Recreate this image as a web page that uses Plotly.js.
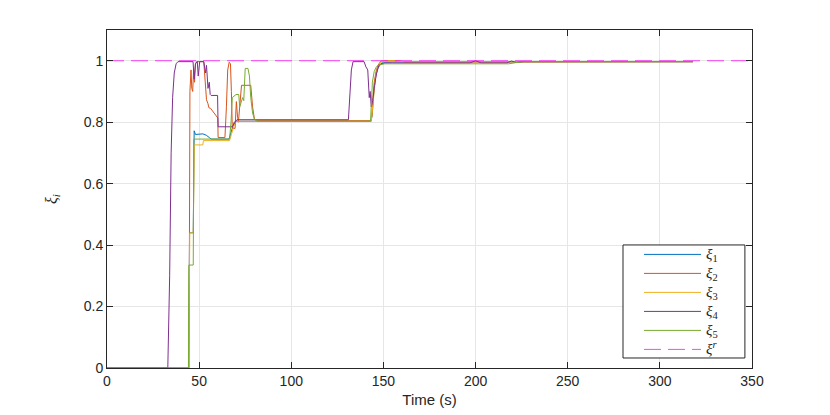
<!DOCTYPE html>
<html>
<head>
<meta charset="utf-8">
<script src="https://cdn.plot.ly/plotly-3.0.1.min.js"></script>
<style>html,body{margin:0;padding:0;background:#fff;}#chart{width:830px;height:415px;}</style>
</head>
<body>
<div id="chart"></div>
<script>
// ξ1 (blue)
const t1 = [0, 44.3, 44.8, 46.8, 47.3, 48, 52, 54, 55.5, 56.5, 66.2, 67, 68, 69, 70.5, 143.3, 144, 144.8, 145.8, 147, 148.5, 150, 155, 318];
const xi1 = [0, 0, 0.44, 0.44, 0.772, 0.76, 0.762, 0.757, 0.75, 0.745, 0.745, 0.76, 0.785, 0.80, 0.803, 0.803, 0.83, 0.90, 0.95, 0.975, 0.99, 0.995, 0.996, 0.997];
// ξ2 (orange)
const t2 = [0, 44.5, 45.0, 45.6, 46.0, 46.5, 47.0, 47.5, 48.0, 48.6, 52.5, 53.2, 54.0, 54.8, 55.3, 56.2, 60.1, 60.3, 64.0, 64.8, 65.5, 66.3, 67.0, 67.5, 68.0, 69.5, 70.2, 70.8, 71.3, 72.0, 73.0, 78.0, 79.0, 80.0, 81.0, 143.3, 143.8, 144.3, 145.0, 146.0, 147.0, 148.5, 150.5, 158, 162, 200, 318];
const xi2 = [0, 0, 0.90, 0.97, 0.91, 0.90, 0.97, 0.93, 0.99, 0.997, 0.997, 0.95, 0.873, 0.86, 0.847, 0.845, 0.814, 0.75, 0.75, 0.85, 0.97, 0.995, 0.99, 0.90, 0.78, 0.78, 0.867, 0.82, 0.80, 0.85, 0.92, 0.92, 0.85, 0.81, 0.805, 0.805, 0.82, 0.88, 0.93, 0.965, 0.985, 0.998, 1.0, 1.0, 0.996, 0.996, 0.997];
// ξ3 (yellow)
const t3 = [0, 44.4, 44.9, 46.8, 47.4, 52.0, 52.3, 66.5, 67.5, 68.5, 69.5, 70.5, 143.4, 144.0, 144.8, 145.8, 147.0, 148.5, 150.5, 157, 162, 318];
const xi3 = [0, 0, 0.44, 0.44, 0.726, 0.726, 0.74, 0.74, 0.76, 0.785, 0.80, 0.803, 0.803, 0.84, 0.90, 0.95, 0.978, 0.995, 0.999, 0.999, 0.996, 0.997];
// ξ4 (purple)
const t4 = [0, 33.0, 34.0, 34.8, 35.6, 36.5, 37.5, 38.5, 46.7, 47.3, 48.0, 49.0, 49.5, 50.3, 52.5, 53.5, 54.0, 54.8, 55.5, 56.0, 56.5, 60.0, 60.3, 68.0, 69.5, 70.5, 131.0, 131.8, 132.6, 133.5, 139.5, 140.5, 141.5, 142.3, 142.8, 143.4, 144.2, 145.2, 146.3, 147.5, 149.0, 151, 197, 200, 203, 217, 219.5, 222, 226, 318];
const xi4 = [0, 0, 0.30, 0.70, 0.88, 0.96, 0.99, 0.997, 0.997, 0.94, 0.99, 0.997, 0.95, 0.997, 0.997, 0.96, 0.985, 0.91, 0.93, 0.89, 0.887, 0.887, 0.785, 0.785, 0.80, 0.808, 0.808, 0.90, 0.97, 0.997, 0.997, 0.98, 0.97, 0.88, 0.90, 0.85, 0.87, 0.92, 0.96, 0.985, 0.99, 0.993, 0.993, 1.0, 0.993, 0.993, 0.999, 0.994, 0.997, 0.997];
// ξ5 (green)
const t5 = [0, 44.2, 44.4, 46.8, 47.1, 66.5, 67.3, 68.0, 70.0, 71.5, 72.0, 72.5, 73.0, 73.6, 74.2, 75.0, 76.5, 77.3, 78.0, 79.0, 80.0, 81.5, 143.0, 143.5, 144.0, 145.0, 146.0, 147.0, 148.5, 150.5, 155, 218, 222, 226, 318];
const xi5 = [0, 0, 0.335, 0.335, 0.745, 0.745, 0.80, 0.88, 0.89, 0.89, 0.85, 0.86, 0.873, 0.88, 0.87, 0.975, 0.975, 0.95, 0.88, 0.83, 0.81, 0.803, 0.803, 0.85, 0.93, 0.965, 0.978, 0.985, 0.988, 0.99, 0.99, 0.99, 0.994, 0.997, 0.997];
// reference ξ^r
const tRef = [0, 350];
const xiRef = [1, 1];

const xTicks = [0, 50, 100, 150, 200, 250, 300, 350];
const yTicks = [0, 0.2, 0.4, 0.6, 0.8, 1];
const yTickText = ['0', '0.2', '0.4', '0.6', '0.8', '1'];

const legendLabels = ['<i>ξ</i><sub>1</sub>', '<i>ξ</i><sub>2</sub>', '<i>ξ</i><sub>3</sub>', '<i>ξ</i><sub>4</sub>', '<i>ξ</i><sub>5</sub>', '<i>ξ</i><sup><i>r</i></sup>'];
const colors = ['#0072BD', '#D95319', '#EDB120', '#7E2F8E', '#77AC30', '#FF00FF'];
const xs = [t1, t2, t3, t4, t5, tRef];
const ys = [xi1, xi2, xi3, xi4, xi5, xiRef];

const traces = xs.map((x, i) => ({
  x: x, y: ys[i], type: 'scatter', mode: 'lines',
  name: '<span style="font-size:15px">' + legendLabels[i] + '</span>',
  opacity: i === 5 ? 0.75 : 1,
  line: {color: colors[i], width: 1, dash: i === 5 ? '17px,7px' : 'solid'}
}));

const axisCommon = {
  showline: true, linecolor: '#262626', linewidth: 1, mirror: 'ticks',
  ticks: 'inside', ticklen: 6, tickcolor: '#262626',
  showgrid: true, gridcolor: '#e6e6e6', gridwidth: 1, zeroline: false,
  tickfont: {family: 'Liberation Sans, Arial, sans-serif', size: 14, color: '#262626'}
};

const layout = {
  width: 830, height: 415,
  margin: {l: 107, r: 78, t: 30, b: 47},
  paper_bgcolor: '#ffffff', plot_bgcolor: '#ffffff',
  showlegend: true,
  xaxis: Object.assign({}, axisCommon, {
    range: [0, 350], tickvals: xTicks,
    title: {text: 'Time (s)', font: {family: 'Liberation Sans, Arial, sans-serif', size: 15, color: '#262626'}, standoff: 6}
  }),
  yaxis: Object.assign({}, axisCommon, {
    range: [0, 1.1], tickvals: yTicks, ticktext: yTickText,
    title: {text: '<i>ξ</i><sub><i>i</i></sub>', font: {family: 'Liberation Serif, serif', size: 16, color: '#262626'}, standoff: 22}
  }),
  shapes: [{
    type: 'rect', xref: 'paper', yref: 'paper',
    x0: 0.8, x1: 0.989, y0: 0.0296, y1: 0.364,
    line: {color: '#262626', width: 1}, fillcolor: '#ffffff', layer: 'above'
  }],
  legend: {
    x: 0.8248, y: 0.379, xanchor: 'left', yanchor: 'top',
    bgcolor: 'rgba(0,0,0,0)', borderwidth: 0,
    font: {family: 'Liberation Serif, DejaVu Serif, serif', size: 12, color: '#262626'},
    itemwidth: 57, tracegroupgap: 0
  }
};

Plotly.newPlot('chart', traces, layout, {displayModeBar: false, staticPlot: true});
</script>
</body>
</html>
